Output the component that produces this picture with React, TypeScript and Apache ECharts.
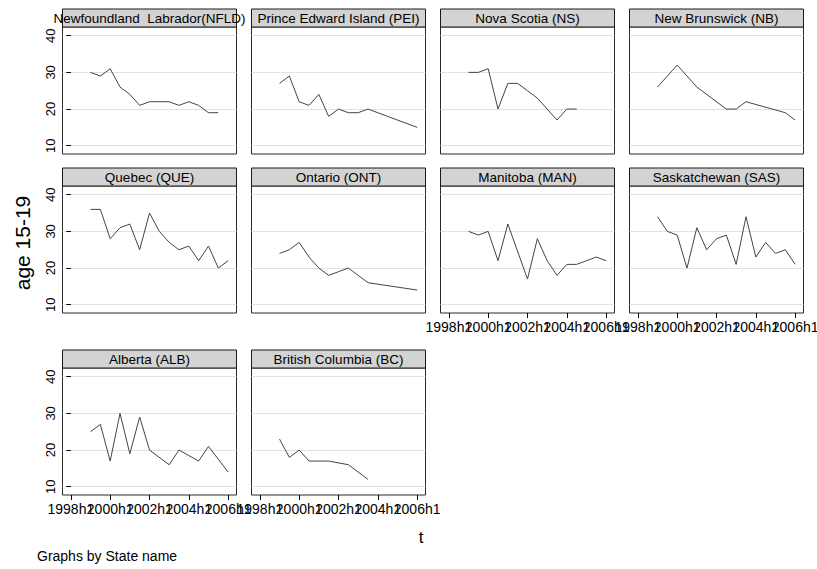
import React, { useEffect, useRef } from 'react';
import * as echarts from 'echarts';

// ---- data ----
const provinces = [
  'Newfoundland  Labrador(NFLD)',
  'Prince Edward Island (PEI)',
  'Nova Scotia (NS)',
  'New Brunswick (NB)',
  'Quebec (QUE)',
  'Ontario (ONT)',
  'Manitoba (MAN)',
  'Saskatchewan (SAS)',
  'Alberta (ALB)',
  'British Columbia (BC)',
];

// half-year index (1998h1 = 0): 1999h1 ... 2006h1
const halfYears = [2, 3, 4, 5, 6, 7, 8, 9, 10, 11, 12, 13, 14, 15, 16];

const nfld = [30, 29, 31, 26, 24, 21, 22, 22, 22, 21, 22, 21, 19, 19, null];
const pei = [27, 29, 22, 21, 24, 18, 20, 19, 19, 20, null, null, null, null, 15];
const ns = [30, 30, 31, 20, 27, 27, 25, 23, 20, 17, 20, 20, null, null, null];
const nb = [26, null, 32, null, 26, null, null, 20, 20, 22, null, null, null, 19, 17];
const que = [36, 36, 28, 31, 32, 25, 35, 30, 27, 25, 26, 22, 26, 20, 22];
const ont = [24, 25, 27, 23, 20, 18, 19, 20, null, 16, null, null, null, null, 14];
const man = [30, 29, 30, 22, 32, null, 17, 28, 22, 18, 21, 21, 22, 23, 22];
const sas = [34, 30, 29, 20, 31, 25, 28, 29, 21, 34, 23, 27, 24, 25, 21];
const alb = [25, 27, 17, 30, 19, 29, 20, null, 16, 20, null, 17, 21, null, 14];
const bc = [23, 18, 20, 17, null, 17, null, 16, null, 12, null, null, null, null, null];

const seriesValues = [nfld, pei, ns, nb, que, ont, man, sas, alb, bc];

// tick labels are split into two interleaved sets (drawn on two stacked axes)
const xTickValuesA = [0, 8, 16];
const xTickLabelsA = ['1998h1', '2002h1', '2006h1'];
const xTickValuesB = [4, 12];
const xTickLabelsB = ['2000h1', '2004h1'];
const yTickValues = [10, 20, 30, 40];

const yTitle = 'age 15-19';
const xTitle = 't';
const note = 'Graphs by State name';

// ---- layout ----
const FONT = '"Liberation Sans", Arial, sans-serif';
const colLeft = [62.5, 251.5, 440.5, 629.5];
const rowTop = [27, 186, 368];
const W = 174;
const H = 127;
const STRIP = 18;
const X_MIN = -0.85;
const X_MAX = 16.85;

function makeXAxis(gridIndex: number, show: boolean, values: number[], labels: string[]) {
  return {
    gridIndex,
    type: 'value',
    position: 'bottom',
    offset: 0,
    min: X_MIN,
    max: X_MAX,
    axisLine: { show: false },
    splitLine: { show: false },
    axisTick: {
      show,
      length: 5,
      customValues: values,
      lineStyle: { color: '#000', width: 1 },
    },
    axisLabel: {
      show,
      customValues: values,
      formatter: (v: number) => labels[values.indexOf(v)] ?? '',
      fontSize: 14,
      fontFamily: FONT,
      color: '#000',
      margin: 7,
      hideOverlap: false,
      showMinLabel: true,
      showMaxLabel: true,
    },
  };
}

export default function App() {
  const ref = useRef<HTMLDivElement>(null);

  useEffect(() => {
    const chart = echarts.init(ref.current!, null, { renderer: 'svg' });
    const grids: any[] = [];
    const xAxes: any[] = [];
    const yAxes: any[] = [];
    const series: any[] = [];
    const rects: any[] = [];
    const texts: any[] = [];

    provinces.forEach((name, i) => {
      const row = Math.floor(i / 4);
      const col = i % 4;
      const left = colLeft[col];
      const top = rowTop[row];
      const showX = i >= 6;
      const showY = col === 0;

      grids.push({
        left,
        top,
        width: W,
        height: H,
        show: true,
        backgroundColor: '#ffffff',
        borderColor: '#2a2a2a',
        borderWidth: 1,
        containLabel: false,
        outerBoundsMode: 'none',
      });

      const mainX = xAxes.length;
      xAxes.push(makeXAxis(i, showX, xTickValuesA, xTickLabelsA));
      if (showX) xAxes.push(makeXAxis(i, true, xTickValuesB, xTickLabelsB));

      yAxes.push({
        gridIndex: i,
        type: 'value',
        min: 7.74,
        max: 42.38,
        axisLine: { show: false },
        axisTick: {
          show: showY,
          length: 4.5,
          customValues: yTickValues,
          lineStyle: { color: '#000', width: 1 },
        },
        axisLabel: {
          show: showY,
          customValues: yTickValues,
          rotate: 90,
          fontSize: 13,
          fontFamily: FONT,
          color: '#000',
          margin: 6,
          showMinLabel: true,
          showMaxLabel: true,
        },
        splitLine: {
          show: true,
          lineStyle: { color: '#e2e2e2', width: 1.2 },
        },
      });

      const vals = seriesValues[i];
      const pts: [number, number][] = [];
      halfYears.forEach((h, k) => {
        const v = vals[k];
        if (v !== null && v !== undefined) pts.push([h, v]);
      });
      series.push({
        type: 'line',
        xAxisIndex: mainX,
        yAxisIndex: i,
        data: pts,
        showSymbol: false,
        symbol: 'none',
        lineStyle: { color: '#444444', width: 1 },
        silent: true,
      });

      rects.push({
        type: 'rect',
        shape: { x: left, y: top - STRIP, width: W, height: STRIP },
        style: { fill: '#d3d3d3', stroke: '#1a1a1a', lineWidth: 1 },
        z: 10,
      });
      texts.push({
        type: 'text',
        x: left + W / 2,
        y: top - STRIP / 2 + 0.5,
        style: {
          text: name,
          fontSize: 13.5,
          fontFamily: FONT,
          fill: '#000',
          align: 'center',
          verticalAlign: 'middle',
        },
        z: 11,
      });
    });

    const graphic = [
      ...rects,
      ...texts,
      {
        type: 'text',
        x: 22,
        y: 243,
        rotation: Math.PI / 2,
        style: {
          text: yTitle,
          fontSize: 21,
          fontFamily: FONT,
          fill: '#000',
          align: 'center',
          verticalAlign: 'middle',
        },
      },
      {
        type: 'text',
        x: 421,
        y: 537,
        style: {
          text: xTitle,
          fontSize: 17,
          fontFamily: FONT,
          fill: '#000',
          align: 'center',
          verticalAlign: 'middle',
        },
      },
      {
        type: 'text',
        x: 37,
        y: 556,
        style: {
          text: note,
          fontSize: 14,
          fontFamily: FONT,
          fill: '#000',
          align: 'left',
          verticalAlign: 'middle',
        },
      },
    ];

    chart.setOption({
      animation: false,
      backgroundColor: '#ffffff',
      grid: grids,
      xAxis: xAxes,
      yAxis: yAxes,
      series,
      graphic,
    });

    return () => chart.dispose();
  }, []);

  return (
    <div
      ref={ref}
      style={{ position: 'absolute', left: 0, top: 0, width: 817, height: 569 }}
    />
  );
}
